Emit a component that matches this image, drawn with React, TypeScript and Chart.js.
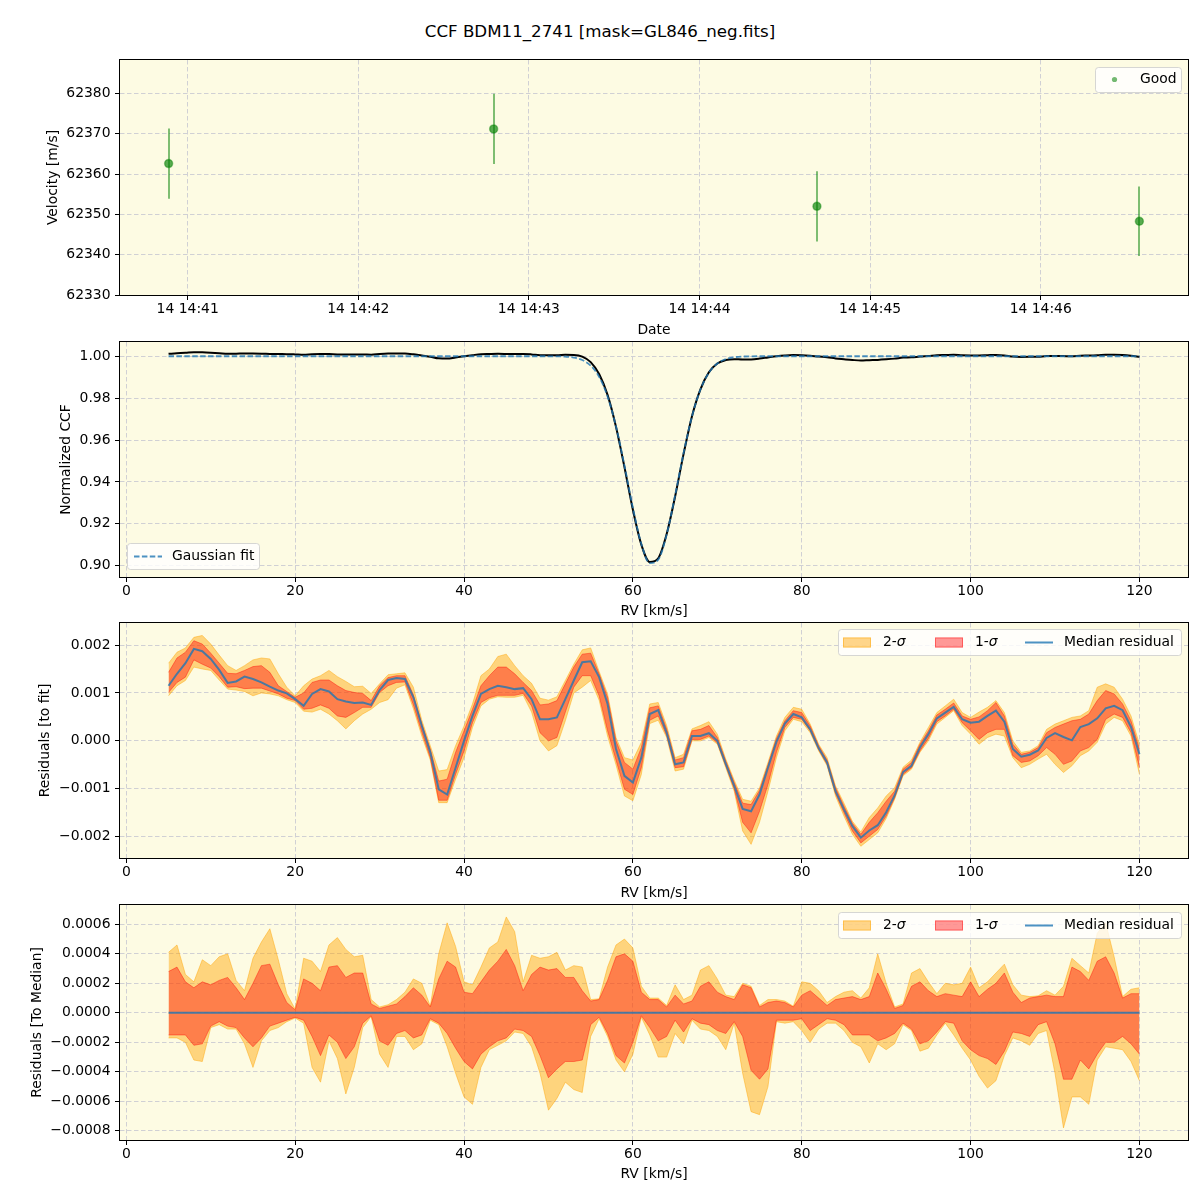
import React, { useEffect, useRef } from "react";
import { Chart, registerables } from "chart.js";

Chart.register(...registerables);

const FONT = "'DejaVu Sans', 'Liberation Sans', sans-serif";
const FS = 13.9;
const AXES_BG = "#fdfbe3";
const GRID = "#d0d0d4";
const MINUS = "\u2212";
const BLUE = "rgba(31,119,180,0.8)";
const BAND2 = "rgba(255,165,0,0.45)";
const BAND1 = "rgba(255,0,0,0.4)";

// ---------------- Panel 1 : velocity vs time ----------------
const obsTimes = ["14:40:53.3", "14:42:47.6", "14:44:41.3", "14:46:34.7"];
const obsVelocity = [62362.6, 62371.2, 62352.0, 62348.3];
const obsError = [8.7, 8.7, 8.7, 8.6];
const timeRange = ["14:40:36.2", "14:46:51.8"];
const timeTicks = ["14:41:00", "14:42:00", "14:43:00", "14:44:00", "14:45:00", "14:46:00"];
const timeTickLabels = ["14 14:41", "14 14:42", "14 14:43", "14 14:44", "14 14:45", "14 14:46"];
const velocityTicks = [62330, 62340, 62350, 62360, 62370, 62380];
const velocityRange = [62330, 62388.3];

// ---------------- RV grid (km/s) ----------------
const rv = [
  5, 6, 7, 8, 9, 10, 11, 12, 13, 14,
  15, 16, 17, 18, 19, 20, 21, 22, 23, 24,
  25, 26, 27, 28, 29, 30, 31, 32, 33, 34,
  35, 36, 37, 38, 39, 40, 41, 42, 43, 44,
  45, 46, 47, 48, 49, 50, 51, 52, 53, 54,
  55, 56, 57, 58, 59, 60, 61, 62, 63, 64,
  65, 66, 67, 68, 69, 70, 71, 72, 73, 74,
  75, 76, 77, 78, 79, 80, 81, 82, 83, 84,
  85, 86, 87, 88, 89, 90, 91, 92, 93, 94,
  95, 96, 97, 98, 99, 100, 101, 102, 103, 104,
  105, 106, 107, 108, 109, 110, 111, 112, 113, 114,
  115, 116, 117, 118, 119, 120,
];
const rvTicks = [0, 20, 40, 60, 80, 100, 120];
const rvRange = [-0.75, 125.75];

// ---------------- Panel 2 : normalized CCF ----------------
const gaussFit = [
  1, 1, 1, 1, 1, 1, 1, 1, 1, 1,
  1, 1, 1, 1, 1, 1, 1, 1, 1, 1,
  1, 1, 1, 1, 1, 1, 1, 1, 1, 1,
  1, 1, 1, 1, 1, 1, 1, 1, 1, 1,
  1, 1, 1, 1, 1, 0.99998, 0.99994, 0.99979, 0.99934, 0.99819,
  0.99554, 0.99019, 0.98079, 0.96645, 0.94778, 0.92755, 0.91039, 0.9012, 0.90288, 0.91491,
  0.93353, 0.95372, 0.97127, 0.9841, 0.99216, 0.99655, 0.99865, 0.99953, 0.99985, 0.99996,
  1, 1, 1, 1, 1, 1, 1, 1, 1, 1,
  1, 1, 1, 1, 1, 1, 1, 1, 1, 1,
  1, 1, 1, 1, 1, 1, 1, 1, 1, 1,
  1, 1, 1, 1, 1, 1, 1, 1, 1, 1,
  1, 1, 1, 1, 1, 1,
];
const ccfObserved = [
  1.00115, 1.0014, 1.00162, 1.00192, 1.00187, 1.00171, 1.00148, 1.00121, 1.00124, 1.00134,
  1.00129, 1.00122, 1.00113, 1.00105, 1.00099, 1.00087, 1.00073, 1.00098, 1.00108, 1.00103,
  1.00087, 1.00082, 1.00079, 1.0008, 1.00075, 1.00106, 1.00127, 1.00131, 1.00129, 1.00091,
  1.00031, 0.99976, 0.99899, 0.99888, 0.99944, 1.0, 1.00052, 1.00098, 1.00108, 1.00115,
  1.00112, 1.00108, 1.0011, 1.00087, 1.00045, 1.00043, 1.00043, 1.00066, 1.0006, 0.99983,
  0.9972, 0.99152, 0.98156, 0.96628, 0.94705, 0.92668, 0.91004, 0.90176, 0.90352, 0.91508,
  0.93304, 0.95327, 0.97137, 0.9842, 0.99232, 0.99655, 0.99817, 0.99859, 0.99843, 0.99849,
  0.99888, 0.99944, 0.99998, 1.00036, 1.00056, 1.00049, 1.00024, 0.99985, 0.99955, 0.99895,
  0.99857, 0.99822, 0.99798, 0.99813, 0.99824, 0.99851, 0.99886, 0.99935, 0.99948, 0.99986,
  1.00014, 1.00047, 1.00059, 1.00071, 1.00045, 1.00038, 1.0004, 1.00052, 1.00063, 1.0004,
  0.99983, 0.99967, 0.99971, 0.9998, 1.00006, 1.00016, 1.00008, 1.00001, 1.00029, 1.00035,
  1.00047, 1.00068, 1.00073, 1.00064, 1.00029, 0.99972,
];
const ccfTicks = [0.9, 0.92, 0.94, 0.96, 0.98, 1.0];
const ccfRange = [0.8946, 1.0068];

// ---------------- Panel 3 : residuals to fit (units of 1e-4) ----------------
const fitLo2 = [
  9.4, 11.5, 12.6, 15.4, 15.0, 14.7, 12.7, 10.8, 10.6, 10.3,
  9.4, 10.0, 9.8, 9.4, 8.6, 8.0, 6.2, 6.0, 6.6, 5.6,
  4.2, 2.5, 4.2, 5.6, 6.6, 8.0, 8.6, 11.0, 11.7, 6.7,
  1.0, -4.0, -12.9, -12.9, -8.0, -3.5, 2.8, 7.3, 8.7, 9.2,
  9.1, 9.1, 9.5, 6.0, 0.0, -2.1, -1.0, 4.2, 10.0, 11.2,
  12.6, 8.5, 1.0, -5.0, -11.5, -12.5, -7.0, 3.6, 4.3, 0.7,
  -6.3, -5.9, 0.0, 0.0, 0.7, -0.7, -5.6, -10.5, -18.8, -21.6,
  -17.0, -10.5, -3.5, 2.1, 4.5, 4.0, 1.7, -2.1, -5.2, -11.5,
  -15.7, -19.5, -22.0, -20.6, -19.2, -16.2, -12.2, -7.3, -5.9, -2.4,
  0.0, 3.5, 4.9, 6.3, 3.2, 1.4, -0.7, 0.7, 1.4, 1.0,
  -3.5, -5.6, -4.9, -3.8, -2.8, -4.9, -6.6, -5.2, -3.1, -2.1,
  -0.3, 3.5, 4.9, 4.2, 1.0, -7.0,
];
const fitLo1 = [
  10.1, 12.2, 13.3, 16.9, 16.0, 15.2, 13.4, 11.2, 11.3, 10.9,
  11.0, 11.0, 10.4, 9.8, 8.9, 8.4, 6.6, 6.8, 7.5, 6.8,
  5.2, 4.9, 5.9, 7.0, 7.0, 10.1, 11.5, 12.2, 12.3, 7.5,
  1.8, -3.5, -12.4, -12.4, -7.0, -2.1, 3.8, 8.0, 9.0, 9.5,
  9.5, 9.5, 9.9, 7.3, 1.7, 0.0, 0.7, 6.0, 11.2, 13.6,
  13.6, 9.4, 2.1, -4.0, -10.1, -11.2, -5.6, 4.3, 5.2, 1.1,
  -5.6, -5.4, 0.3, 0.3, 1.0, -0.4, -5.2, -10.0, -17.0, -19.2,
  -14.7, -9.1, -2.4, 2.8, 4.9, 4.5, 2.1, -1.8, -4.9, -11.0,
  -15.0, -18.8, -21.3, -19.9, -18.5, -15.7, -11.9, -7.0, -5.6, -2.1,
  0.5, 4.0, 5.2, 6.6, 3.8, 2.1, 0.3, 1.7, 2.4, 2.4,
  -3.1, -4.5, -4.2, -3.1, -1.4, -2.8, -4.9, -4.2, -2.1, -1.4,
  0.3, 4.5, 5.6, 4.9, 1.7, -5.6,
];
const fitMedian = [
  11.5, 14.0, 16.2, 19.2, 18.7, 17.1, 14.8, 12.1, 12.4, 13.4,
  12.9, 12.2, 11.3, 10.5, 9.9, 8.7, 7.3, 9.8, 10.8, 10.3,
  8.7, 8.2, 7.9, 8.0, 7.5, 10.6, 12.7, 13.1, 12.9, 9.1,
  3.1, -2.4, -10.1, -11.2, -5.6, 0.0, 5.2, 9.8, 10.8, 11.5,
  11.2, 10.8, 11.0, 8.7, 4.5, 4.5, 4.9, 8.7, 12.6, 16.4,
  16.6, 13.3, 7.7, -1.7, -7.3, -8.7, -3.5, 5.6, 6.4, 1.7,
  -4.9, -4.5, 1.0, 1.0, 1.6, 0.0, -4.8, -9.4, -14.2, -14.7,
  -11.2, -5.6, -0.2, 3.6, 5.6, 4.9, 2.4, -1.5, -4.5, -10.5,
  -14.3, -17.8, -20.2, -18.7, -17.6, -14.9, -11.4, -6.5, -5.2, -1.4,
  1.4, 4.7, 5.9, 7.1, 4.5, 3.8, 4.0, 5.2, 6.3, 4.0,
  -1.7, -3.3, -2.9, -2.0, 0.6, 1.6, 0.8, 0.1, 2.9, 3.5,
  4.7, 6.8, 7.3, 6.4, 2.9, -2.8,
];
const fitHi1 = [
  14.3, 17.3, 18.5, 20.9, 20.2, 18.3, 16.2, 14.1, 14.0, 14.7,
  15.5, 15.7, 14.3, 11.5, 10.3, 9.1, 10.0, 12.2, 12.7, 12.7,
  11.5, 10.5, 10.1, 9.9, 8.4, 11.5, 13.2, 13.6, 13.6, 9.6,
  3.6, -1.7, -8.4, -8.0, -2.4, 2.1, 6.6, 11.5, 13.6, 15.4,
  15.4, 14.0, 12.2, 10.5, 7.5, 7.7, 8.4, 11.9, 15.4, 18.1,
  18.3, 14.0, 9.1, 0.0, -4.5, -5.9, -1.4, 6.9, 7.3, 2.5,
  -4.0, -3.5, 2.1, 2.4, 3.2, 0.7, -4.2, -8.7, -13.0, -13.3,
  -10.3, -5.0, 0.5, 4.2, 6.3, 5.9, 3.1, -1.0, -4.0, -9.8,
  -13.6, -17.2, -19.5, -17.0, -15.0, -12.6, -10.5, -5.9, -4.5, -0.7,
  2.1, 5.4, 6.6, 7.9, 5.2, 4.5, 5.0, 6.3, 8.0, 5.2,
  -0.7, -2.8, -2.4, -1.4, 1.7, 2.8, 3.5, 4.2, 4.5, 5.6,
  8.4, 10.5, 9.8, 7.7, 4.2, -1.7,
];
const fitHi2 = [
  16.2, 18.5, 19.4, 21.6, 22.0, 20.2, 17.9, 15.7, 14.7, 15.7,
  16.9, 17.3, 17.1, 14.0, 11.2, 9.4, 11.5, 12.9, 13.6, 14.7,
  13.4, 12.4, 11.3, 11.4, 9.9, 11.9, 13.8, 14.0, 14.2, 11.2,
  4.3, -1.0, -6.3, -6.0, -1.0, 3.1, 7.7, 13.6, 15.0, 17.6,
  18.1, 15.7, 13.6, 12.0, 8.9, 8.5, 9.2, 12.6, 16.0, 19.0,
  19.4, 14.5, 9.8, 0.7, -3.5, -4.0, -0.3, 7.7, 8.0, 3.2,
  -3.5, -2.8, 2.5, 3.2, 4.0, 1.4, -3.8, -8.2, -12.2, -12.6,
  -9.8, -4.5, 1.0, 4.9, 7.0, 6.6, 3.5, -0.7, -3.5, -9.4,
  -13.0, -16.8, -19.0, -16.0, -14.0, -11.5, -9.8, -5.5, -4.0, -0.3,
  2.8, 5.9, 7.3, 8.7, 5.9, 4.9, 6.0, 7.0, 8.4, 5.9,
  0.0, -2.4, -2.1, -1.0, 2.4, 3.5, 4.2, 4.9, 5.2, 6.3,
  11.2, 11.9, 11.2, 8.7, 5.2, -0.7,
];
const fitTicks = [-0.002, -0.001, 0, 0.001, 0.002];
const fitRange = [-0.002445, 0.00246];

// ---------------- Panel 4 : residuals to median (units of 1e-4) ----------------
const medMedian = [
  0, 0, 0, 0, 0, 0, 0, 0, 0, 0,
  0, 0, 0, 0, 0, 0, 0, 0, 0, 0,
  0, 0, 0, 0, 0, 0, 0, 0, 0, 0,
  0, 0, 0, 0, 0, 0, 0, 0, 0, 0,
  0, 0, 0, 0, 0, 0, 0, 0, 0, 0,
  0, 0, 0, 0, 0, 0, 0, 0, 0, 0,
  0, 0, 0, 0, 0, 0, 0, 0, 0, 0,
  0, 0, 0, 0, 0, 0, 0, 0, 0, 0,
  0, 0, 0, 0, 0, 0, 0, 0, 0, 0,
  0, 0, 0, 0, 0, 0, 0, 0, 0, 0,
  0, 0, 0, 0, 0, 0, 0, 0, 0, 0,
  0, 0, 0, 0, 0, 0,
];
const medLo2 = [
  -1.7, -1.7, -2.0, -3.2, -3.3, -1.0, -0.8, -1.1, -1.1, -2.1,
  -3.7, -1.9, -1.2, -1.0, -0.6, -0.35, -0.7, -3.7, -4.7, -1.9,
  -3.1, -5.5, -3.7, -1.0, -0.25, -2.8, -3.7, -1.6, -1.6, -2.5,
  -2.1, -0.5, -0.8, -2.3, -4.1, -5.7, -6.2, -3.7, -2.5, -2.2,
  -1.9, -1.3, -1.4, -2.3, -4.1, -6.6, -5.8, -4.7, -5.2, -5.4,
  -1.6, -0.4, -1.6, -3.2, -4.0, -2.8, -0.3, -1.5, -3.0, -3.0,
  -1.4, -2.1, -0.5, -1.1, -1.2, -1.6, -2.5, -0.7, -4.1, -6.7,
  -6.9, -5.0, -0.6, -0.7, -0.6, -1.2, -2.0, -1.1, -0.7, -0.7,
  -1.2, -2.0, -2.3, -3.4, -2.1, -2.5, -2.1, -0.8, -1.2, -2.6,
  -2.4, -1.5, -0.7, -1.5, -2.4, -3.2, -4.3, -5.1, -4.6, -2.9,
  -1.7, -1.9, -2.2, -1.4, -1.2, -4.1, -7.8, -5.7, -5.7, -6.2,
  -3.2, -2.3, -2.4, -2.5, -3.3, -4.6,
];
const medLo1 = [
  -1.5, -1.5, -1.5, -2.2, -2.1, -0.9, -0.6, -0.9, -1.0, -1.7,
  -2.3, -1.7, -0.9, -0.7, -0.5, -0.3, -0.5, -1.6, -2.9, -1.5,
  -2.0, -3.1, -2.3, -0.7, -0.2, -1.9, -2.2, -1.4, -1.2, -1.7,
  -1.5, -0.4, -0.7, -1.4, -2.4, -3.3, -3.8, -2.8, -2.3, -1.9,
  -1.7, -1.1, -1.2, -1.6, -2.9, -4.4, -3.8, -3.3, -3.3, -3.2,
  -0.8, -0.3, -1.4, -2.9, -3.4, -2.0, -0.2, -1.0, -1.9, -1.6,
  -0.5, -1.3, -0.4, -0.7, -0.8, -1.2, -1.4, -0.6, -1.6, -3.9,
  -4.5, -3.8, -0.5, -0.5, -0.5, -0.4, -1.2, -0.8, -0.4, -0.5,
  -0.8, -1.5, -1.5, -1.5, -1.9, -1.7, -1.4, -0.7, -1.1, -2.1,
  -1.9, -1.3, -0.6, -0.7, -1.9, -2.5, -2.9, -3.1, -3.5, -2.6,
  -1.3, -1.4, -1.6, -0.8, -0.6, -2.1, -4.5, -4.5, -3.2, -3.8,
  -2.8, -2.0, -2.0, -1.6, -2.1, -2.8,
];
const medHi1 = [
  2.8, 3.1, 2.1, 1.7, 2.1, 1.9, 2.2, 2.4, 1.7, 0.9,
  2.0, 3.2, 3.3, 1.9, 0.7, 0.2, 2.3, 2.0, 1.5, 3.1,
  3.2, 2.4, 2.7, 2.7, 0.6, 0.3, 0.45, 0.6, 1.1, 1.7,
  1.2, 0.4, 2.3, 3.5, 3.1, 1.4, 1.3, 2.1, 2.9, 3.5,
  4.3, 3.2, 1.5, 2.6, 3.1, 2.9, 3.0, 2.4, 2.4, 1.5,
  0.8, 0.9, 2.2, 3.8, 4.0, 3.5, 1.4, 0.9, 0.9, 0.4,
  1.2, 0.6, 0.8, 1.8, 2.1, 1.4, 1.1, 0.9, 1.9, 1.7,
  0.4, 0.7, 0.8, 0.7, 0.4, 1.2, 1.5, 1.0, 0.5, 0.9,
  1.0, 1.1, 0.9, 1.1, 2.7, 1.6, 0.3, 0.5, 1.8, 2.1,
  1.5, 1.1, 1.3, 1.2, 1.1, 2.1, 1.1, 1.6, 2.0, 2.7,
  1.4, 0.7, 1.0, 1.1, 1.2, 1.1, 1.1, 3.1, 2.8, 2.2,
  3.5, 3.8, 2.7, 1.0, 1.3, 1.3,
];
const medHi2 = [
  4.1, 4.6, 2.6, 2.1, 3.6, 3.2, 3.8, 4.0, 2.2, 1.5,
  3.7, 4.8, 5.7, 3.6, 1.3, 0.25, 3.7, 3.5, 2.8, 4.6,
  5.1, 4.3, 3.8, 3.9, 0.9, 0.4, 0.55, 0.9, 1.4, 2.3,
  2.0, 0.45, 4.0, 6.1, 4.5, 2.1, 1.9, 3.1, 4.4, 4.8,
  6.5, 5.5, 2.1, 3.9, 3.7, 3.8, 4.1, 2.9, 3.2, 3.1,
  0.9, 0.95, 3.1, 4.6, 5.0, 4.4, 1.8, 1.0, 1.0, 0.5,
  1.9, 0.9, 1.2, 2.9, 3.2, 2.3, 1.2, 1.1, 2.0, 1.8,
  0.5, 0.9, 0.9, 0.8, 0.45, 2.1, 2.0, 1.5, 0.7, 1.1,
  1.4, 1.5, 1.0, 1.7, 4.0, 2.0, 0.4, 0.6, 2.7, 3.0,
  2.1, 1.3, 2.0, 1.9, 2.0, 3.1, 1.7, 2.1, 2.7, 3.3,
  1.9, 1.2, 1.1, 1.15, 1.5, 1.2, 1.8, 3.7, 3.2, 2.7,
  5.4, 6.1, 3.8, 1.1, 1.6, 1.7,
];
const medTicks = [-0.0008, -0.0006, -0.0004, -0.0002, 0, 0.0002, 0.0004, 0.0006];
const medRange = [-0.000862, 0.000731];

// ---------------- helpers ----------------
const toMinutes = (s: string) => {
  const [h, m, sec] = s.split(":").map(Number);
  return h * 60 + m + sec / 60 - (14 * 60 + 40);
};
const pts = (ys: number[], k = 1) => rv.map((x, i) => ({ x, y: ys[i] * k }));
const withMinus = (s: string) => s.replace("-", MINUS);

function scaleOpts(
  axis: "x" | "y",
  range: number[],
  ticks: number[],
  fmt: (v: number, i: number) => string,
  fitSize: number,
  pad: number
) {
  return {
    type: "linear",
    position: axis === "x" ? "bottom" : "left",
    min: range[0],
    max: range[1],
    afterBuildTicks: (s: any) => {
      s.ticks = ticks.map((v) => ({ value: v }));
    },
    afterFit: (s: any) => {
      if (axis === "x") {
        s.height = fitSize;
        s.paddingLeft = 0;
        s.paddingRight = 0;
      } else {
        s.width = fitSize;
        s.paddingTop = 0;
        s.paddingBottom = 0;
      }
    },
    grid: {
      display: true,
      color: GRID,
      lineWidth: 1,
      drawOnChartArea: true,
      drawTicks: true,
      tickLength: 5,
      tickColor: "#000",
      tickWidth: 1,
      tickBorderDash: [],
    },
    border: { display: false, dash: [4.5, 2.5] },
    ticks: {
      color: "#000",
      font: { family: FONT, size: FS },
      padding: pad,
      autoSkip: false,
      maxRotation: 0,
      minRotation: 0,
      callback: (v: any, i: number) => fmt(Number(v), i),
    },
  };
}

function roundRectPath(ctx: CanvasRenderingContext2D, x: number, y: number, w: number, h: number, r: number) {
  ctx.beginPath();
  ctx.moveTo(x + r, y);
  ctx.arcTo(x + w, y, x + w, y + h, r);
  ctx.arcTo(x + w, y + h, x, y + h, r);
  ctx.arcTo(x, y + h, x, y, r);
  ctx.arcTo(x, y, x + w, y, r);
  ctx.closePath();
}

function legendFrame(ctx: CanvasRenderingContext2D, x: number, y: number, w: number, h: number) {
  ctx.save();
  roundRectPath(ctx, x + 0.5, y + 0.5, w, h, 3);
  ctx.fillStyle = "rgba(255,255,255,0.8)";
  ctx.fill();
  ctx.strokeStyle = "rgba(204,204,204,0.8)";
  ctx.lineWidth = 1;
  ctx.stroke();
  ctx.restore();
}

function text(ctx: CanvasRenderingContext2D, s: string, x: number, y: number, align: CanvasTextAlign = "left", italic = false) {
  ctx.font = `${italic ? "italic " : ""}${FS}px ${FONT}`;
  ctx.fillStyle = "#000";
  ctx.textAlign = align;
  ctx.textBaseline = "middle";
  ctx.fillText(s, x, y);
}

function sigmaText(ctx: CanvasRenderingContext2D, n: string, x: number, y: number) {
  text(ctx, `${n}-`, x, y);
  ctx.font = `${FS}px ${FONT}`;
  const w = ctx.measureText(`${n}-`).width;
  text(ctx, "\u03c3", x + w, y, "left", true);
}

function sigmaLegend(ctx: CanvasRenderingContext2D, top: number) {
  legendFrame(ctx, 838, top, 343, 26);
  const cy = top + 13.5;
  ctx.save();
  ctx.lineWidth = 1;
  ctx.fillStyle = BAND2;
  ctx.strokeStyle = BAND2;
  ctx.fillRect(843, cy - 5, 28, 10);
  ctx.strokeRect(843.5, cy - 4.5, 27, 9);
  ctx.fillStyle = BAND1;
  ctx.strokeStyle = BAND1;
  ctx.fillRect(935, cy - 5, 28, 10);
  ctx.strokeRect(935.5, cy - 4.5, 27, 9);
  ctx.strokeStyle = BLUE;
  ctx.lineWidth = 2;
  ctx.beginPath();
  ctx.moveTo(1025, cy);
  ctx.lineTo(1053, cy);
  ctx.stroke();
  ctx.restore();
  sigmaText(ctx, "2", 883, cy);
  sigmaText(ctx, "1", 975, cy);
  text(ctx, "Median residual", 1064, cy);
}

type Decor = {
  yTitle: string;
  yTitleX: number;
  xTitle: string;
  xTitleY: number;
  legend?: (ctx: CanvasRenderingContext2D) => void;
  under?: (chart: any) => void;
};

function decorPlugin(d: Decor) {
  return {
    id: "decor",
    beforeDraw(chart: any) {
      const { ctx, chartArea: a } = chart;
      ctx.save();
      ctx.fillStyle = AXES_BG;
      ctx.fillRect(a.left, a.top, a.right - a.left, a.bottom - a.top);
      ctx.restore();
    },
    beforeDatasetsDraw(chart: any) {
      if (d.under) d.under(chart);
    },
    afterDraw(chart: any) {
      const { ctx, chartArea: a } = chart;
      ctx.save();
      if (d.legend) d.legend(ctx);
      ctx.strokeStyle = "#000";
      ctx.lineWidth = 1;
      ctx.strokeRect(a.left - 0.5, a.top - 0.5, a.right - a.left + 1, a.bottom - a.top + 1);
      text(ctx, d.xTitle, (a.left + a.right) / 2, d.xTitleY, "center");
      ctx.translate(d.yTitleX, (a.top + a.bottom) / 2);
      ctx.rotate(-Math.PI / 2);
      text(ctx, d.yTitle, 0, 0, "center");
      ctx.restore();
    },
  };
}

function baseOptions(padTop: number, x: any, y: any) {
  return {
    responsive: false,
    maintainAspectRatio: false,
    animation: false as const,
    devicePixelRatio: 1,
    events: [],
    layout: { padding: { top: padTop, right: 12, left: 0, bottom: 0 } },
    plugins: { legend: { display: false }, tooltip: { enabled: false }, title: { display: false } },
    scales: { x, y },
  };
}

// ---------------- chart configs ----------------
function config1(): any {
  const x = scaleOpts("x", timeRange.map(toMinutes), timeTicks.map(toMinutes), (_v, i) => timeTickLabels[i], 43, 1.5);
  const y = scaleOpts("y", velocityRange, velocityTicks, (v) => String(Math.round(v)), 120, 4.5);
  return {
    type: "line",
    data: {
      datasets: [
        {
          label: "Good",
          data: obsTimes.map((t, i) => ({ x: toMinutes(t), y: obsVelocity[i] })),
          showLine: false,
          pointRadius: 4,
          pointBackgroundColor: "rgba(0,128,0,0.65)",
          pointBorderColor: "rgba(0,128,0,0.4)",
          pointBorderWidth: 1.5,
        },
      ],
    },
    options: baseOptions(10, x, y),
    plugins: [
      decorPlugin({
        yTitle: "Velocity [m/s]",
        yTitleX: 53,
        xTitle: "Date",
        xTitleY: 280,
        under: (chart: any) => {
          const { ctx } = chart;
          const xs = chart.scales.x;
          const ys = chart.scales.y;
          ctx.save();
          ctx.strokeStyle = "rgba(0,128,0,0.5)";
          ctx.lineWidth = 2;
          obsTimes.forEach((t, i) => {
            const px = Math.round(xs.getPixelForValue(toMinutes(t)));
            ctx.beginPath();
            ctx.moveTo(px, ys.getPixelForValue(obsVelocity[i] - obsError[i]));
            ctx.lineTo(px, ys.getPixelForValue(obsVelocity[i] + obsError[i]));
            ctx.stroke();
          });
          ctx.restore();
        },
        legend: (ctx) => {
          legendFrame(ctx, 1095, 17, 86, 25);
          ctx.save();
          ctx.fillStyle = "rgba(0,128,0,0.55)";
          ctx.beginPath();
          ctx.arc(1114.5, 29.5, 2.6, 0, Math.PI * 2);
          ctx.fill();
          ctx.restore();
          text(ctx, "Good", 1140, 29.5);
        },
      }),
    ],
  };
}

function config2(): any {
  const x = scaleOpts("x", rvRange, rvTicks, (v) => String(v), 42, 1.5);
  const y = scaleOpts("y", ccfRange, ccfTicks, (v) => v.toFixed(2), 120, 4.5);
  return {
    type: "line",
    data: {
      datasets: [
        {
          label: "Gaussian fit",
          data: pts(gaussFit),
          borderColor: BLUE,
          borderWidth: 1.8,
          borderDash: [5.5, 2.4],
          pointRadius: 0,
          fill: false,
          cubicInterpolationMode: "monotone",
        },
        {
          label: "CCF",
          data: pts(ccfObserved),
          borderColor: "#000",
          borderWidth: 2,
          pointRadius: 0,
          fill: false,
          cubicInterpolationMode: "monotone",
        },
      ],
    },
    options: baseOptions(4, x, y),
    plugins: [
      decorPlugin({
        yTitle: "Normalized CCF",
        yTitleX: 66,
        xTitle: "RV [km/s]",
        xTitleY: 273,
        legend: (ctx) => {
          legendFrame(ctx, 127, 205, 132, 26);
          ctx.save();
          ctx.strokeStyle = BLUE;
          ctx.lineWidth = 1.8;
          ctx.setLineDash([5.5, 2.4]);
          ctx.beginPath();
          ctx.moveTo(134, 218.5);
          ctx.lineTo(162, 218.5);
          ctx.stroke();
          ctx.restore();
          text(ctx, "Gaussian fit", 172, 218.5);
        },
      }),
    ],
  };
}

function bandConfig(
  median: number[], lo1: number[], hi1: number[], lo2: number[], hi2: number[],
  range: number[], ticks: number[], digits: number, padTop: number, xFit: number,
  yTitle: string, yTitleX: number, xTitleY: number, legendTop: number
): any {
  const x = scaleOpts("x", rvRange, rvTicks, (v) => String(v), xFit, 1.5);
  const y = scaleOpts("y", range, ticks, (v) => withMinus(v.toFixed(digits)), 120, 4.5);
  const k = 1e-4;
  const band = (data: any, color: string, fill: any) => ({
    data,
    borderColor: color,
    backgroundColor: color,
    borderWidth: 1,
    pointRadius: 0,
    tension: 0,
    fill,
  });
  return {
    type: "line",
    data: {
      datasets: [
        { label: "Median residual", data: pts(median, k), borderColor: BLUE, borderWidth: 2, pointRadius: 0, fill: false, tension: 0 },
        { label: "1-sigma", ...band(pts(hi1, k), BAND1, "+1") },
        { label: "1-sigma low", ...band(pts(lo1, k), BAND1, false) },
        { label: "2-sigma", ...band(pts(hi2, k), BAND2, "+1") },
        { label: "2-sigma low", ...band(pts(lo2, k), BAND2, false) },
      ],
    },
    options: baseOptions(padTop, x, y),
    plugins: [
      decorPlugin({
        yTitle,
        yTitleX,
        xTitle: "RV [km/s]",
        xTitleY,
        legend: (ctx) => sigmaLegend(ctx, legendTop),
      }),
    ],
  };
}

export default function App() {
  const c1 = useRef<HTMLCanvasElement>(null);
  const c2 = useRef<HTMLCanvasElement>(null);
  const c3 = useRef<HTMLCanvasElement>(null);
  const c4 = useRef<HTMLCanvasElement>(null);

  useEffect(() => {
    Chart.defaults.font.family = FONT;
    Chart.defaults.font.size = FS;
    Chart.defaults.color = "#000";
    const charts = [
      new Chart(c1.current as HTMLCanvasElement, config1()),
      new Chart(c2.current as HTMLCanvasElement, config2()),
      new Chart(
        c3.current as HTMLCanvasElement,
        bandConfig(fitMedian, fitLo1, fitHi1, fitLo2, fitHi2, fitRange, fitTicks, 3, 4, 43, "Residuals [to fit]", 45, 274, 10)
      ),
      new Chart(
        c4.current as HTMLCanvasElement,
        bandConfig(medMedian, medLo1, medHi1, medLo2, medHi2, medRange, medTicks, 4, 4, 60, "Residuals [To Median]", 37, 273, 11)
      ),
    ];
    return () => charts.forEach((c) => c.destroy());
  }, []);

  const cv = (top: number, h: number): React.CSSProperties => ({
    position: "absolute",
    left: 0,
    top,
    width: 1200,
    height: h,
  });

  return (
    <div style={{ position: "absolute", left: 0, top: 0, width: 1200, height: 1200, background: "#fff", fontFamily: FONT }}>
      <div
        style={{
          position: "absolute",
          left: 0,
          top: 21,
          width: 1200,
          textAlign: "center",
          fontSize: "16.67px",
          lineHeight: "22px",
          color: "#000",
        }}
      >
        CCF BDM11_2741 [mask=GL846_neg.fits]
      </div>
      <canvas ref={c1} width={1200} height={288} style={cv(50, 288)} />
      <canvas ref={c2} width={1200} height={281} style={cv(338, 281)} />
      <canvas ref={c3} width={1200} height={282} style={cv(619, 282)} />
      <canvas ref={c4} width={1200} height={299} style={cv(901, 299)} />
    </div>
  );
}
